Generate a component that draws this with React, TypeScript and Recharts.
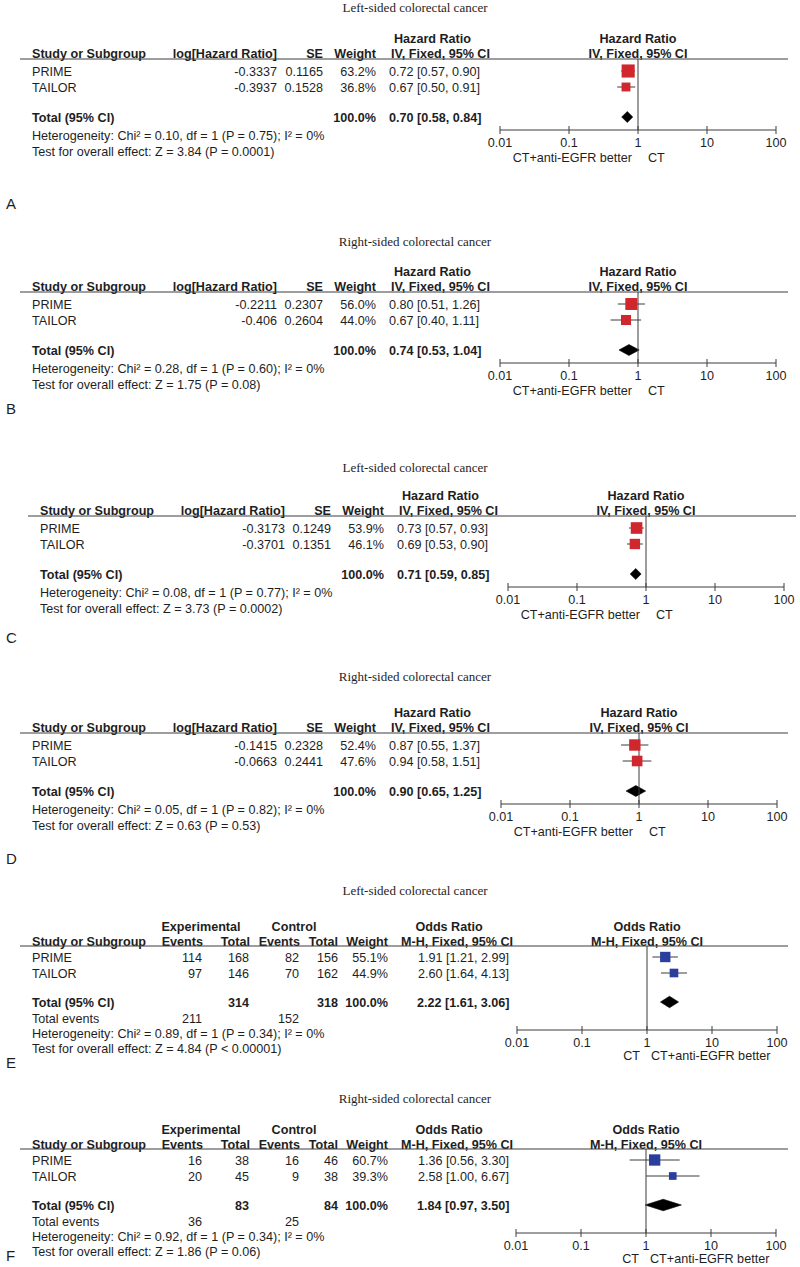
import React from 'react'
import { ComposedChart, Scatter, ErrorBar, Area, XAxis, YAxis, ReferenceLine } from 'recharts'

// shared
const studyNames = ['PRIME', 'TAILOR']
const logTicks = [0.01, 0.1, 1, 10, 100]

// A - left-sided, hazard ratio
const aLogHr = [-0.3337, -0.3937]
const aSe = [0.1165, 0.1528]
const aWeight = [63.2, 36.8]
const aHr = [0.72, 0.67]
const aLow = [0.57, 0.5]
const aHigh = [0.9, 0.91]
const aTotal = [0.7, 0.58, 0.84]
const aStats = ['Heterogeneity: Chi² = 0.10, df = 1 (P = 0.75); I² = 0%', 'Test for overall effect: Z = 3.84 (P = 0.0001)']

// B - right-sided, hazard ratio
const bLogHr = [-0.2211, -0.406]
const bSe = [0.2307, 0.2604]
const bWeight = [56.0, 44.0]
const bHr = [0.8, 0.67]
const bLow = [0.51, 0.4]
const bHigh = [1.26, 1.11]
const bTotal = [0.74, 0.53, 1.04]
const bStats = ['Heterogeneity: Chi² = 0.28, df = 1 (P = 0.60); I² = 0%', 'Test for overall effect: Z = 1.75 (P = 0.08)']

// C - left-sided, hazard ratio
const cLogHr = [-0.3173, -0.3701]
const cSe = [0.1249, 0.1351]
const cWeight = [53.9, 46.1]
const cHr = [0.73, 0.69]
const cLow = [0.57, 0.53]
const cHigh = [0.93, 0.9]
const cTotal = [0.71, 0.59, 0.85]
const cStats = ['Heterogeneity: Chi² = 0.08, df = 1 (P = 0.77); I² = 0%', 'Test for overall effect: Z = 3.73 (P = 0.0002)']

// D - right-sided, hazard ratio
const dLogHr = [-0.1415, -0.0663]
const dSe = [0.2328, 0.2441]
const dWeight = [52.4, 47.6]
const dHr = [0.87, 0.94]
const dLow = [0.55, 0.58]
const dHigh = [1.37, 1.51]
const dTotal = [0.9, 0.65, 1.25]
const dStats = ['Heterogeneity: Chi² = 0.05, df = 1 (P = 0.82); I² = 0%', 'Test for overall effect: Z = 0.63 (P = 0.53)']

// E - left-sided, odds ratio
const eExpEvents = [114, 97]
const eExpTotal = [168, 146]
const eCtlEvents = [82, 70]
const eCtlTotal = [156, 162]
const eWeight = [55.1, 44.9]
const eOr = [1.91, 2.6]
const eLow = [1.21, 1.64]
const eHigh = [2.99, 4.13]
const eTotal = [2.22, 1.61, 3.06]
const eStats = ['Heterogeneity: Chi² = 0.89, df = 1 (P = 0.34); I² = 0%', 'Test for overall effect: Z = 4.84 (P < 0.00001)']

// F - right-sided, odds ratio
const fExpEvents = [16, 20]
const fExpTotal = [38, 45]
const fCtlEvents = [16, 9]
const fCtlTotal = [46, 38]
const fWeight = [60.7, 39.3]
const fOr = [1.36, 2.58]
const fLow = [0.56, 1.0]
const fHigh = [3.3, 6.67]
const fTotal = [1.84, 0.97, 3.5]
const fStats = ['Heterogeneity: Chi² = 0.92, df = 1 (P = 0.34); I² = 0%', 'Test for overall effect: Z = 1.86 (P = 0.06)']

const SANS = 'Arial, "Liberation Sans", Helvetica, sans-serif'
const SERIF = '"Times New Roman", "Liberation Serif", serif'
const INK = '#1e1e1e'
const RULE = '#3c3c3c'
const RED = '#d0262d'
const BLUE = '#2a3e9d'
const FS = 12.6

const sum = (a: number[]) => a.reduce((s, v) => s + v, 0)
const ci = (e: number, l: number, h: number) => `${e.toFixed(2)} [${l.toFixed(2)}, ${h.toFixed(2)}]`

function T({ x, y, children, anchor = 'start', bold = false, size = FS, family = SANS }: any) {
  return (
    <text x={x} y={y} textAnchor={anchor} fontWeight={bold ? 'bold' : 'normal'} fontSize={size} fontFamily={family} fill={INK}>
      {children}
    </text>
  )
}

function LogTick(props: any) {
  const { x, y, payload } = props
  return (
    <g>
      <line x1={x} x2={x} y1={y - 4} y2={y + 4} stroke={RULE} />
      <text x={x} y={y + 17} textAnchor="middle" fontSize={FS} fontFamily={SANS} fill={INK}>
        {String(payload.value)}
      </text>
    </g>
  )
}

function ForestPlot({ top, ax0, ax1, plotH, firstRow, totalTop, est, low, high, weight, total, color, sq, half }: any) {
  const unit = 16
  const y0 = 1 - firstRow / unit
  const yMax = y0 + plotH / unit
  const totalRow = y0 + totalTop / unit
  const points = est.map((v: number, i: number) => ({
    x: v,
    row: i + 1,
    ci: [v - low[i], high[i] - v],
    box: sq(weight[i]),
  }))
  const diamond = [
    { x: total[1], band: [totalRow, totalRow] },
    { x: total[0], band: [totalRow - half, totalRow + half] },
    { x: total[2], band: [totalRow, totalRow] },
  ]
  return (
    <div style={{ position: 'absolute', left: ax0 - 20, top }}>
      <ComposedChart width={ax1 - ax0 + 40} height={plotH + 40} margin={{ top: 0, right: 20, bottom: 0, left: 20 }}>
        <XAxis
          type="number"
          dataKey="x"
          scale="log"
          domain={[0.01, 100]}
          ticks={logTicks}
          interval={0}
          allowDataOverflow
          height={40}
          tickSize={0}
          tickMargin={0}
          tickLine={false}
          axisLine={{ stroke: RULE }}
          tick={(p: any) => <LogTick {...p} />}
        />
        <YAxis type="number" dataKey="row" domain={[y0, yMax]} reversed hide allowDataOverflow />
        <ReferenceLine x={1} stroke={RULE} />
        <Area
          data={diamond}
          dataKey="band"
          type="linear"
          stroke="#000"
          strokeWidth={0.6}
          fill="#000"
          fillOpacity={1}
          isAnimationActive={false}
        />
        <Scatter
          data={points}
          dataKey="row"
          fill={color}
          isAnimationActive={false}
          shape={(p: any) => {
            const s = p.payload?.box ?? 10
            return <rect x={p.cx - s / 2} y={p.cy - s / 2} width={s} height={s} fill={color} />
          }}
        >
          <ErrorBar dataKey="ci" direction="x" width={0} stroke={RULE} strokeWidth={1} isAnimationActive={false} />
        </Scatter>
      </ComposedChart>
    </div>
  )
}

function HrText({ L, dx, mid, axisY, titleY, title, logHr, se, weight, est, low, high, total, stats, letter, letterY }: any) {
  return (
    <g>
      <T x={415} y={titleY + 4} anchor="middle" family={SERIF} size={13}>{title}</T>
      <T x={394 + dx} y={L - 16.5} bold>Hazard Ratio</T>
      <T x={mid} y={L - 16.5} anchor="middle" bold>Hazard Ratio</T>
      <T x={32 + dx} y={L - 1.5} bold>Study or Subgroup</T>
      <T x={277 + dx} y={L - 1.5} anchor="end" bold>log[Hazard Ratio]</T>
      <T x={323 + dx} y={L - 1.5} anchor="end" bold>SE</T>
      <T x={376 + dx} y={L - 1.5} anchor="end" bold>Weight</T>
      <T x={391 + dx} y={L - 1.5} bold>IV, Fixed, 95% CI</T>
      <T x={mid} y={L - 1.5} anchor="middle" bold>IV, Fixed, 95% CI</T>
      <line x1={20 + dx} x2={788 + dx} y1={L} y2={L} stroke={RULE} />
      {studyNames.map((n, i) => {
        const y = L + 16.5 + i * 16
        return (
          <g key={n}>
            <T x={32 + dx} y={y}>{n}</T>
            <T x={277 + dx} y={y} anchor="end">{String(logHr[i])}</T>
            <T x={323 + dx} y={y} anchor="end">{se[i].toFixed(4)}</T>
            <T x={376 + dx} y={y} anchor="end">{weight[i].toFixed(1)}%</T>
            <T x={389 + dx} y={y}>{ci(est[i], low[i], high[i])}</T>
          </g>
        )
      })}
      <T x={32 + dx} y={L + 62.5} bold>Total (95% CI)</T>
      <T x={376 + dx} y={L + 62.5} anchor="end" bold>{sum(weight).toFixed(1)}%</T>
      <T x={389 + dx} y={L + 62.5} bold>{ci(total[0], total[1], total[2])}</T>
      <T x={32 + dx} y={L + 80.5}>{stats[0]}</T>
      <T x={32 + dx} y={L + 96.5}>{stats[1]}</T>
      <T x={mid - 6} y={axisY + 31.5} anchor="end">CT+anti-EGFR better</T>
      <T x={mid + 10} y={axisY + 31.5}>CT</T>
      <T x={6} y={letterY + 5.5} size={15}>{letter}</T>
    </g>
  )
}

function OrText({ L, mid, axisY, titleY, title, expEv, expN, ctlEv, ctlN, weight, est, low, high, total, stats, letter, letterY }: any) {
  return (
    <g>
      <T x={415} y={titleY + 4} anchor="middle" family={SERIF} size={13}>{title}</T>
      <T x={201} y={L - 15} anchor="middle" bold>Experimental</T>
      <T x={294} y={L - 15} anchor="middle" bold>Control</T>
      <T x={449} y={L - 15} anchor="middle" bold>Odds Ratio</T>
      <T x={mid} y={L - 15} anchor="middle" bold>Odds Ratio</T>
      <T x={32} y={L - 0.5} bold>Study or Subgroup</T>
      <T x={203} y={L - 0.5} anchor="end" bold>Events</T>
      <T x={250} y={L - 0.5} anchor="end" bold>Total</T>
      <T x={300} y={L - 0.5} anchor="end" bold>Events</T>
      <T x={338} y={L - 0.5} anchor="end" bold>Total</T>
      <T x={388} y={L - 0.5} anchor="end" bold>Weight</T>
      <T x={457} y={L - 0.5} anchor="middle" bold>M-H, Fixed, 95% CI</T>
      <T x={mid} y={L - 0.5} anchor="middle" bold>M-H, Fixed, 95% CI</T>
      <line x1={20} x2={788} y1={L} y2={L} stroke={RULE} />
      {studyNames.map((n, i) => {
        const y = L + 15.5 + i * 16
        return (
          <g key={n}>
            <T x={32} y={y}>{n}</T>
            <T x={202} y={y} anchor="end">{expEv[i]}</T>
            <T x={249} y={y} anchor="end">{expN[i]}</T>
            <T x={299} y={y} anchor="end">{ctlEv[i]}</T>
            <T x={338} y={y} anchor="end">{ctlN[i]}</T>
            <T x={388} y={y} anchor="end">{weight[i].toFixed(1)}%</T>
            <T x={418} y={y}>{ci(est[i], low[i], high[i])}</T>
          </g>
        )
      })}
      <T x={32} y={L + 60.5} bold>Total (95% CI)</T>
      <T x={249} y={L + 60.5} anchor="end" bold>{sum(expN)}</T>
      <T x={338} y={L + 60.5} anchor="end" bold>{sum(ctlN)}</T>
      <T x={388} y={L + 60.5} anchor="end" bold>{sum(weight).toFixed(1)}%</T>
      <T x={417} y={L + 60.5} bold>{ci(total[0], total[1], total[2])}</T>
      <T x={32} y={L + 76.5}>Total events</T>
      <T x={202} y={L + 76.5} anchor="end">{sum(expEv)}</T>
      <T x={299} y={L + 76.5} anchor="end">{sum(ctlEv)}</T>
      <T x={32} y={L + 92}>{stats[0]}</T>
      <T x={32} y={L + 107}>{stats[1]}</T>
      <T x={mid - 7} y={axisY + 29.5} anchor="end">CT</T>
      <T x={mid + 4} y={axisY + 29.5}>CT+anti-EGFR better</T>
      <T x={6} y={letterY + 5.5} size={15}>{letter}</T>
    </g>
  )
}

const hrSq = (w: number) => 3 + 0.16 * w
const orSq = (w: number) => 1 + 0.17 * w

export default function App() {
  const hr = [
    { L: 59, dx: 0, ax0: 500, ax1: 776, titleY: 8, letterY: 203, title: 'Left-sided colorectal cancer', letter: 'A',
      logHr: aLogHr, se: aSe, weight: aWeight, est: aHr, low: aLow, high: aHigh, total: aTotal, stats: aStats },
    { L: 292, dx: 0, ax0: 500, ax1: 776, titleY: 242, letterY: 408, title: 'Right-sided colorectal cancer', letter: 'B',
      logHr: bLogHr, se: bSe, weight: bWeight, est: bHr, low: bLow, high: bHigh, total: bTotal, stats: bStats },
    { L: 516, dx: 8, ax0: 508, ax1: 784, titleY: 468, letterY: 637, title: 'Left-sided colorectal cancer', letter: 'C',
      logHr: cLogHr, se: cSe, weight: cWeight, est: cHr, low: cLow, high: cHigh, total: cTotal, stats: cStats },
    { L: 733, dx: 0, ax0: 501, ax1: 777, titleY: 677, letterY: 858, title: 'Right-sided colorectal cancer', letter: 'D',
      logHr: dLogHr, se: dSe, weight: dWeight, est: dHr, low: dLow, high: dHigh, total: dTotal, stats: dStats },
  ]
  const or = [
    { L: 946, ax0: 517, ax1: 777, titleY: 891, letterY: 1062, title: 'Left-sided colorectal cancer', letter: 'E',
      expEv: eExpEvents, expN: eExpTotal, ctlEv: eCtlEvents, ctlN: eCtlTotal, weight: eWeight, est: eOr, low: eLow, high: eHigh, total: eTotal, stats: eStats },
    { L: 1149, ax0: 516, ax1: 776, titleY: 1099, letterY: 1255, title: 'Right-sided colorectal cancer', letter: 'F',
      expEv: fExpEvents, expN: fExpTotal, ctlEv: fCtlEvents, ctlN: fCtlTotal, weight: fWeight, est: fOr, low: fLow, high: fHigh, total: fTotal, stats: fStats },
  ]
  const hrH = 71
  const orH = 84

  return (
    <div style={{ position: 'absolute', left: 0, top: 0, width: 800, height: 1267, background: '#fff', overflow: 'hidden' }}>
      <svg width={800} height={1267} style={{ position: 'absolute', left: 0, top: 0 }}>
        {hr.map((p) => (
          <HrText key={p.letter} {...p} mid={(p.ax0 + p.ax1) / 2} axisY={p.L + hrH} />
        ))}
        {or.map((p) => (
          <OrText key={p.letter} {...p} mid={(p.ax0 + p.ax1) / 2} axisY={p.L + orH} />
        ))}
      </svg>
      {hr.map((p) => (
        <ForestPlot
          key={p.letter}
          top={p.L}
          ax0={p.ax0}
          ax1={p.ax1}
          plotH={hrH}
          firstRow={12}
          totalTop={58}
          est={p.est}
          low={p.low}
          high={p.high}
          weight={p.weight}
          total={p.total}
          color={RED}
          sq={hrSq}
          half={0.34}
        />
      ))}
      {or.map((p) => (
        <ForestPlot
          key={p.letter}
          top={p.L}
          ax0={p.ax0}
          ax1={p.ax1}
          plotH={orH}
          firstRow={11}
          totalTop={56}
          est={p.est}
          low={p.low}
          high={p.high}
          weight={p.weight}
          total={p.total}
          color={BLUE}
          sq={orSq}
          half={0.36}
        />
      ))}
    </div>
  )
}
